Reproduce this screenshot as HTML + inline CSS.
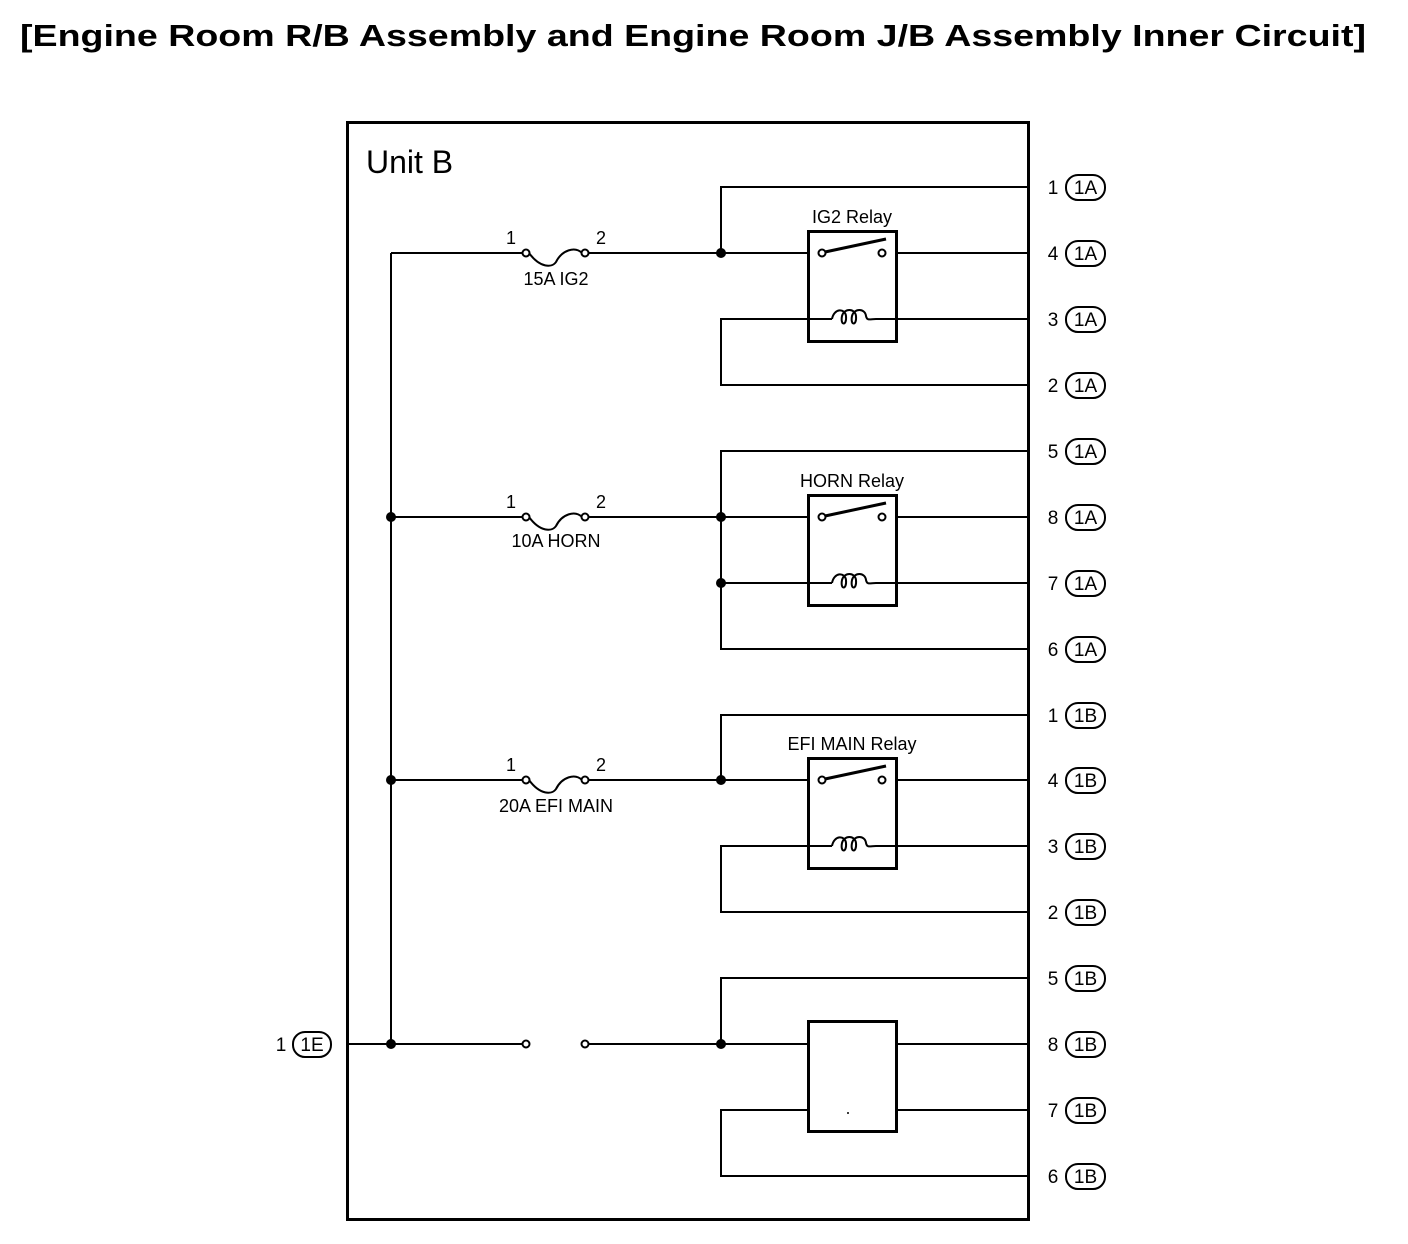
<!DOCTYPE html>
<html><head><meta charset="utf-8"><style>
html,body{margin:0;padding:0;background:#fff;}
svg{display:block;font-family:"Liberation Sans",Arial,sans-serif;}
</style></head><body>
<svg width="1408" height="1244" viewBox="0 0 1408 1244" xmlns="http://www.w3.org/2000/svg">
<text x="20" y="46" font-size="31" font-weight="bold" textLength="1346" lengthAdjust="spacingAndGlyphs">[Engine Room R/B Assembly and Engine Room J/B Assembly Inner Circuit]</text>
<rect x="347.5" y="122.5" width="681" height="1097" fill="none" stroke="#000" stroke-width="3"/>
<text x="366" y="173" font-size="32">Unit B</text>
<g stroke="#000" stroke-width="2" fill="none">
<line x1="391" y1="253" x2="391" y2="1044"/>
<line x1="391" y1="253" x2="523" y2="253"/>
<path d="M529 253 C540 268 552 268 556 262 C562 250 575 246 582 253"/>
<line x1="588" y1="253" x2="808" y2="253"/>
<polyline points="721,253 721,187 1028,187"/>
<line x1="896" y1="253" x2="1028" y2="253"/>
<polyline points="1028,385 721,385 721,319 832,319"/>
<line x1="876" y1="319" x2="1028" y2="319"/>
<line x1="391" y1="517" x2="523" y2="517"/>
<path d="M529 517 C540 532 552 532 556 526 C562 514 575 510 582 517"/>
<line x1="588" y1="517" x2="808" y2="517"/>
<polyline points="1028,451 721,451 721,649 1028,649"/>
<line x1="896" y1="517" x2="1028" y2="517"/>
<line x1="721" y1="583" x2="832" y2="583"/>
<line x1="876" y1="583" x2="1028" y2="583"/>
<line x1="391" y1="780" x2="523" y2="780"/>
<path d="M529 780 C540 795 552 795 556 789 C562 777 575 773 582 780"/>
<line x1="588" y1="780" x2="808" y2="780"/>
<polyline points="721,780 721,715 1028,715"/>
<line x1="896" y1="780" x2="1028" y2="780"/>
<polyline points="1028,912 721,912 721,846 832,846"/>
<line x1="876" y1="846" x2="1028" y2="846"/>
<line x1="347" y1="1044" x2="523" y2="1044"/>
<line x1="588" y1="1044" x2="808" y2="1044"/>
<polyline points="721,1044 721,978 1028,978"/>
<line x1="896" y1="1044" x2="1028" y2="1044"/>
<polyline points="808,1110 721,1110 721,1176 1028,1176"/>
<line x1="896" y1="1110" x2="1028" y2="1110"/>
</g>
<g stroke="#000" stroke-width="3" fill="none">
<rect x="808.5" y="231.5" width="88" height="110"/>
<rect x="808.5" y="495.5" width="88" height="110"/>
<rect x="808.5" y="758.5" width="88" height="110"/>
<rect x="808.5" y="1021.5" width="88" height="110"/>
<line x1="825" y1="252" x2="886" y2="239"/>
<line x1="825" y1="516" x2="886" y2="503"/>
<line x1="825" y1="779" x2="886" y2="766"/>
</g>
<g stroke="#000" stroke-width="2" fill="none">
<path id="c1" d="M832 319 C834 308 845 308 846 316 C847 326 840 326 842 316 C844 308 855 308 856 316 C857 326 850 326 852 316 C854 308 865 308 866 316 C867 321 870 319 876 319"/>
<path d="M832 583 C834 572 845 572 846 580 C847 590 840 590 842 580 C844 572 855 572 856 580 C857 590 850 590 852 580 C854 572 865 572 866 580 C867 585 870 583 876 583"/>
<path d="M832 846 C834 835 845 835 846 843 C847 853 840 853 842 843 C844 835 855 835 856 843 C857 853 850 853 852 843 C854 835 865 835 866 843 C867 848 870 846 876 846"/>
</g>
<g fill="#fff" stroke="#000" stroke-width="2">
<circle cx="526" cy="253" r="3.5"/><circle cx="585" cy="253" r="3.5"/>
<circle cx="526" cy="517" r="3.5"/><circle cx="585" cy="517" r="3.5"/>
<circle cx="526" cy="780" r="3.5"/><circle cx="585" cy="780" r="3.5"/>
<circle cx="526" cy="1044" r="3.5"/><circle cx="585" cy="1044" r="3.5"/>
<circle cx="822" cy="253" r="3.5"/><circle cx="882" cy="253" r="3.5"/>
<circle cx="822" cy="517" r="3.5"/><circle cx="882" cy="517" r="3.5"/>
<circle cx="822" cy="780" r="3.5"/><circle cx="882" cy="780" r="3.5"/>
</g>
<g fill="#000">
<circle cx="721" cy="253" r="5"/>
<circle cx="391" cy="517" r="5"/><circle cx="721" cy="517" r="5"/><circle cx="721" cy="583" r="5"/>
<circle cx="391" cy="780" r="5"/><circle cx="721" cy="780" r="5"/>
<circle cx="391" cy="1044" r="5"/><circle cx="721" cy="1044" r="5"/>
<circle cx="848" cy="1113" r="1"/>
</g>
<g font-size="18" fill="#000">
<text x="506" y="244">1</text><text x="596" y="244">2</text>
<text x="506" y="508">1</text><text x="596" y="508">2</text>
<text x="506" y="771">1</text><text x="596" y="771">2</text>
<text x="556" y="285" text-anchor="middle">15A IG2</text>
<text x="556" y="547" text-anchor="middle">10A HORN</text>
<text x="556" y="812" text-anchor="middle">20A EFI MAIN</text>
<text x="852" y="223" text-anchor="middle">IG2 Relay</text>
<text x="852" y="487" text-anchor="middle">HORN Relay</text>
<text x="852" y="750" text-anchor="middle">EFI MAIN Relay</text>
</g>
<g font-size="19" fill="#000" stroke="none">
<text x="1053" y="194" text-anchor="middle">1</text>
<text x="1053" y="260" text-anchor="middle">4</text>
<text x="1053" y="326" text-anchor="middle">3</text>
<text x="1053" y="392" text-anchor="middle">2</text>
<text x="1053" y="458" text-anchor="middle">5</text>
<text x="1053" y="524" text-anchor="middle">8</text>
<text x="1053" y="590" text-anchor="middle">7</text>
<text x="1053" y="656" text-anchor="middle">6</text>
<text x="1053" y="722" text-anchor="middle">1</text>
<text x="1053" y="787" text-anchor="middle">4</text>
<text x="1053" y="853" text-anchor="middle">3</text>
<text x="1053" y="919" text-anchor="middle">2</text>
<text x="1053" y="985" text-anchor="middle">5</text>
<text x="1053" y="1051" text-anchor="middle">8</text>
<text x="1053" y="1117" text-anchor="middle">7</text>
<text x="1053" y="1183" text-anchor="middle">6</text>
<text x="281" y="1051" text-anchor="middle">1</text>
</g>
<g fill="#fff" stroke="#000" stroke-width="2">
<rect x="1066" y="175" width="39" height="25" rx="12"/>
<rect x="1066" y="241" width="39" height="25" rx="12"/>
<rect x="1066" y="307" width="39" height="25" rx="12"/>
<rect x="1066" y="373" width="39" height="25" rx="12"/>
<rect x="1066" y="439" width="39" height="25" rx="12"/>
<rect x="1066" y="505" width="39" height="25" rx="12"/>
<rect x="1066" y="571" width="39" height="25" rx="12"/>
<rect x="1066" y="637" width="39" height="25" rx="12"/>
<rect x="1066" y="703" width="39" height="25" rx="12"/>
<rect x="1066" y="768" width="39" height="25" rx="12"/>
<rect x="1066" y="834" width="39" height="25" rx="12"/>
<rect x="1066" y="900" width="39" height="25" rx="12"/>
<rect x="1066" y="966" width="39" height="25" rx="12"/>
<rect x="1066" y="1032" width="39" height="25" rx="12"/>
<rect x="1066" y="1098" width="39" height="25" rx="12"/>
<rect x="1066" y="1164" width="39" height="25" rx="12"/>
<rect x="293" y="1032" width="38" height="25" rx="12"/>
</g>
<g font-size="19" fill="#000" text-anchor="middle">
<text x="1085.5" y="194">1A</text><text x="1085.5" y="260">1A</text>
<text x="1085.5" y="326">1A</text><text x="1085.5" y="392">1A</text>
<text x="1085.5" y="458">1A</text><text x="1085.5" y="524">1A</text>
<text x="1085.5" y="590">1A</text><text x="1085.5" y="656">1A</text>
<text x="1085.5" y="722">1B</text><text x="1085.5" y="787">1B</text>
<text x="1085.5" y="853">1B</text><text x="1085.5" y="919">1B</text>
<text x="1085.5" y="985">1B</text><text x="1085.5" y="1051">1B</text>
<text x="1085.5" y="1117">1B</text><text x="1085.5" y="1183">1B</text>
<text x="312" y="1051">1E</text>
</g>
</svg>
</body></html>
